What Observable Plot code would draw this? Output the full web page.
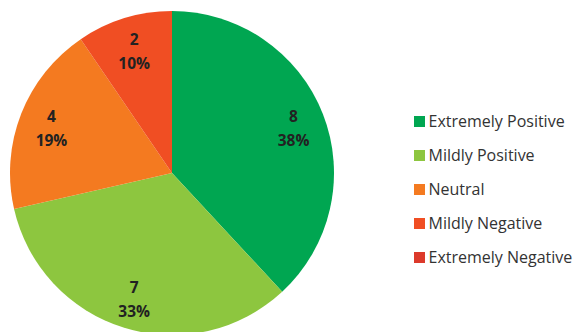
<!DOCTYPE html>
<html>
<head>
<meta charset="utf-8">
<script src="https://cdn.jsdelivr.net/npm/d3@7"></script>
<script src="https://cdn.jsdelivr.net/npm/@observablehq/plot@0.6"></script>
<style>
  html, body { margin: 0; padding: 0; background: #ffffff; }
  #chart { width: 588px; height: 332px; }
</style>
</head>
<body>
<div id="chart"></div>
<script>
const categories = ["Extremely Positive", "Mildly Positive", "Neutral", "Mildly Negative", "Extremely Negative"];
const counts = [8, 7, 4, 2, 0];
const percentLabels = ["38%", "33%", "19%", "10%", "0%"];
const colors = ["#00a651", "#8dc63f", "#f47a20", "#f04e23", "#dc3a2b"];

const W = 588, H = 332;
const cx = 172, cy = 173, R = 162;
const labelR = 130;

const table = categories.map((c, i) => ({category: c, count: counts[i], pct: percentLabels[i], order: i}));
const arcs = d3.pie().sort(null).value(d => d.count)(table);
const arcGen = d3.arc().innerRadius(0).outerRadius(R);
const labelArc = d3.arc().innerRadius(labelR).outerRadius(labelR);

const slices = arcs.filter(a => a.data.count > 0).map(a => {
  const [lx, ly] = labelArc.centroid(a);
  return {...a, lx: cx + lx, ly: cy + ly, label: `${a.data.count}\n${a.data.pct}`};
});

function pieMark(index, scales) {
  const g = d3.create("svg:g").attr("transform", `translate(${cx},${cy})`);
  g.selectAll("path")
    .data(slices)
    .join("path")
    .attr("d", arcGen)
    .attr("fill", d => scales.color(d.data.category))
    .attr("stroke", "none");
  return g.node();
}

const legendTop = 121, legendStep = 34;
const legendRows = table.map((d, i) => ({...d, y: legendTop + i * legendStep}));

const chart = Plot.plot({
  width: W,
  height: H,
  margin: 0,
  x: {type: "identity", axis: null},
  y: {type: "identity", axis: null},
  color: {domain: categories, range: colors},
  style: {background: "#ffffff"},
  marks: [
    pieMark,
    Plot.text(slices, {
      x: "lx", y: "ly", text: "label",
      fontSize: 15.5, fontWeight: "bold", fill: "#222222",
      lineHeight: 1.55, fontFamily: "'Open Sans', sans-serif"
    }),
    Plot.dot(legendRows, {
      x: () => 419, y: "y", symbol: "square", r: 6.2,
      fill: "category", stroke: null
    }),
    Plot.text(legendRows, {
      x: () => 428, y: "y", text: "category", textAnchor: "start",
      fontSize: 16, fill: "#333333", fontFamily: "'Open Sans', sans-serif"
    })
  ]
});

document.getElementById("chart").appendChild(chart);
</script>
</body>
</html>
